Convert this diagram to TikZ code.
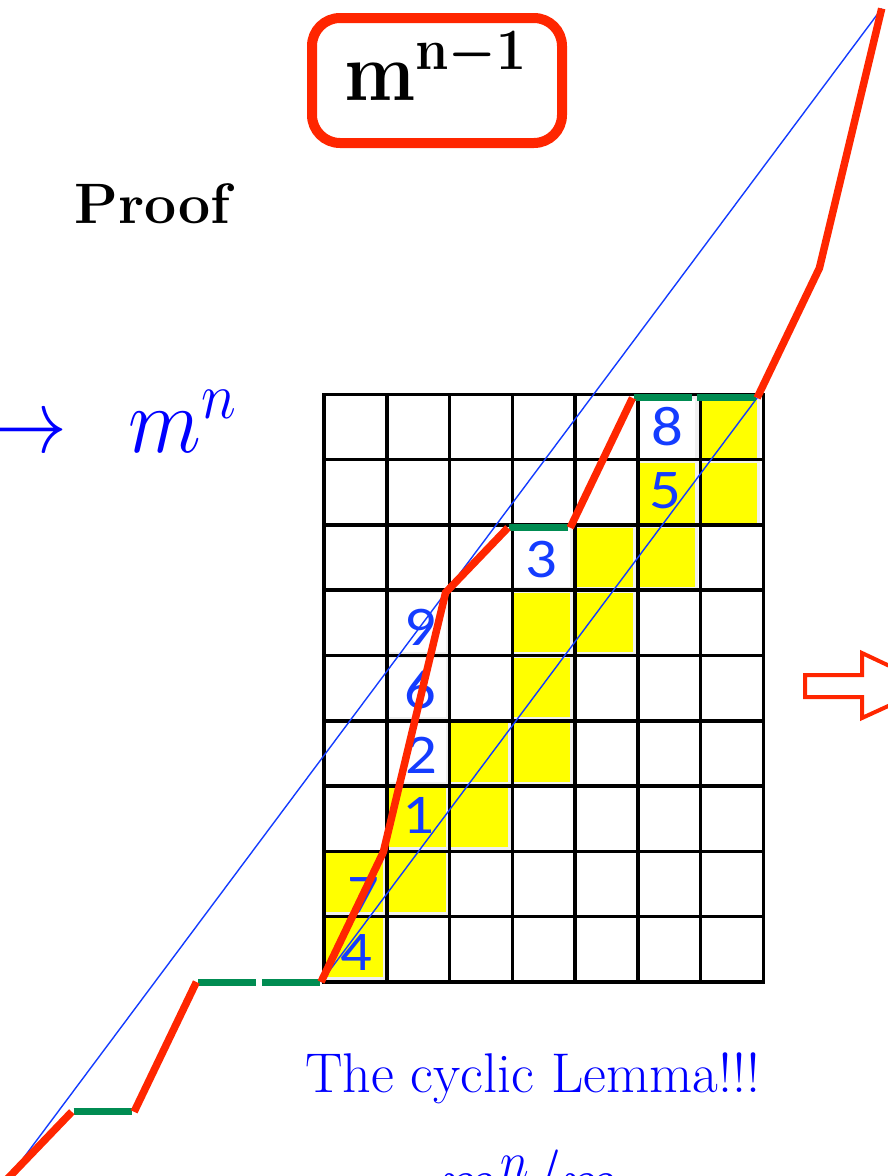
\RequirePackage{fix-cm}
\documentclass[tikz,border=0pt]{standalone}
\usepackage{fontspec}
\usepackage{graphicx}
\newfontfamily\digitfont[FakeStretch=1.12]{Carlito}
\definecolor{pred}{RGB}{255,38,0}
\definecolor{pgreen}{RGB}{0,140,82}
\definecolor{lblue}{RGB}{20,60,255}
\definecolor{tblue}{RGB}{0,0,255}
\definecolor{cyel}{RGB}{255,255,0}
\tikzset{
  redpath/.style={draw=pred, line width=7.5pt, line join=miter},
  greenseg/.style={draw=pgreen, line width=7pt},
  bluethin/.style={draw=lblue, line width=1.4pt},
  gridline/.style={draw=black, line width=3.5pt, line cap=rect},
  yelcell/.style={fill=cyel},
  whitecell/.style={fill=white},
  cellshadow/.style={fill=black!6},
  digit/.style={text=lblue, font=\digitfont\fontsize{56}{60}\selectfont, anchor=base, inner sep=0pt},
  bigtext/.style={anchor=base west, inner sep=0pt},
  pathlat/.style={shift={(321,982)}, x=62.3pt, y=64.9pt},
  gridlat/.style={shift={(324,982)}, x=62.75pt, y=65.3pt},
}
\begin{document}
\begin{tikzpicture}[x=1pt,y=-1pt]
\useasboundingbox (0,0) rectangle (888,1176);
\clip (0,0) rectangle (888,1176);

% title box
\node (titlebox) [draw=pred, line width=10pt, rounded corners=28pt, minimum width=250pt, minimum height=125pt, inner sep=0pt] at (437,80.5) {};
\node (title) [bigtext] at (344,100) {\scalebox{1}[1.1]{\fontsize{76}{80}\selectfont\boldmath$\mathbf{m}^{\mathbf{n-1}}$}};

% Proof
\node (proof) [bigtext] at (74,223) {\fontsize{57}{60}\selectfont\bfseries Proof};

% arrow and m^n
\node (arr) [bigtext, text=tblue] at (-15,452) {\scalebox{1}[1.1]{\fontsize{82}{90}\selectfont$\rightarrow$}};
\node (mn) [bigtext, text=tblue] at (128,452) {\scalebox{1}[1.1]{\fontsize{85}{90}\selectfont$m^n$}};

% bottom texts
\node (lemma) [bigtext, text=tblue] at (305,1092) {\fontsize{56}{60}\selectfont The cyclic Lemma!!!};
\node (frac) [bigtext, text=tblue] at (440,1207) {\scalebox{1}[1.1]{\fontsize{70}{76}\selectfont$m^n/m$}};

% cells
\begin{scope}[pathlat]
  \foreach \i/\j in {0/0,0/1,1/1,1/2,2/2,2/3,3/3,3/4,3/5,4/5,4/6,5/6,5/7,6/7,6/8,1/3,1/4,1/5,3/6,5/8}
    \fill[cellshadow] (\i+0.05,\j+0.02) rectangle (\i+1.05,\j+1.03);
  \foreach \i/\j in {0/0,0/1,1/1,1/2,2/2,2/3,3/3,3/4,3/5,4/5,4/6,5/6,5/7,6/7,6/8}
    \fill[yelcell] (\i+0.08,\j+0.08) rectangle (\i+1,\j+0.99);
  \foreach \i/\j in {1/3,1/4,1/5,3/6,5/8}
    \fill[whitecell] (\i+0.08,\j+0.08) rectangle (\i+1,\j+0.99);
\end{scope}

% grid
\begin{scope}[gridlat]
  \foreach \i in {0,...,7} \draw[gridline] (\i,0) -- (\i,9);
  \foreach \j in {0,...,9} \draw[gridline] (0,\j) -- (7,\j);
\end{scope}

% digits
\node (d4) [digit] at (356,970) {4};
\node (d7) [digit] at (363,913) {7};
\node (d1) [digit] at (418,833) {1};
\node (d2) [digit] at (421,773) {2};
\node (d6) [digit] at (420,708) {6};
\node (d9) [digit] at (420,645) {9};
\node (d3) [digit] at (541,577) {3};
\node (d5) [digit] at (665,508) {5};
\node (d8) [digit] at (667,445) {8};

% lattice path
\begin{scope}[pathlat]
  \draw[bluethin] (-5,-3) -- (9,15);
  \draw[bluethin] (0,0) -- (7,9);
  \draw[greenseg] (-3.97,-2) -- (-3.03,-2);
  \draw[greenseg] (-1.97,0) -- (-1.05,0);
  \draw[greenseg] (-0.95,0) -- (-0.02,0);
  \draw[greenseg] (3.02,7) -- (3.96,7);
  \draw[greenseg] (5.02,9) -- (5.96,9);
  \draw[greenseg] (6.04,9) -- (6.98,9);
  \draw[redpath] (-5.2,-3.2) -- (-4,-2);
  \draw[redpath] (-3,-2) -- (-2,0);
  \draw[redpath] (0,0) -- (1,2) -- (2,6) -- (3,7);
  \draw[redpath] (4,7) -- (5,9);
  \draw[redpath] (7,9) -- (8,11) -- (9,15);
\end{scope}

% outline arrow at right
\draw[draw=pred, line width=4pt, line join=miter] (805,675) -- (862,675) -- (862,653) -- (932,686) -- (862,718) -- (862,697) -- (805,697) -- cycle;
\end{tikzpicture}
\end{document}
